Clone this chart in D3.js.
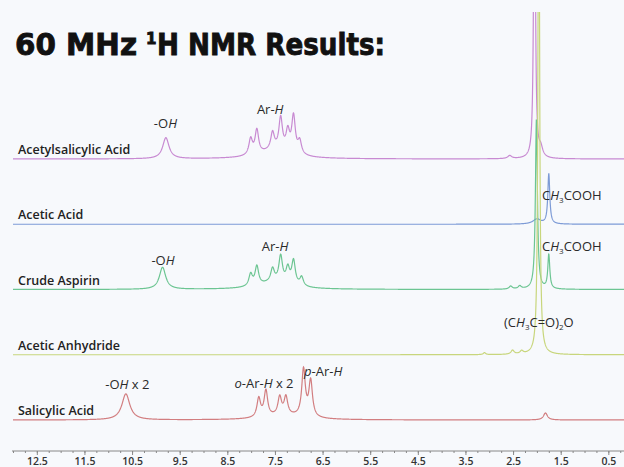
<!DOCTYPE html>
<html>

<head>
  <meta charset="utf-8">
  <title>60 MHz 1H NMR</title>
  <style>
    body { margin: 0; background: #f7f9fc; }
    svg { display: block; }
    .name { font-family: "Open Sans", sans-serif; font-weight: 600; font-size: 12.5px; fill: #222; }
    .peak { font-family: "Open Sans", sans-serif; font-size: 13px; fill: #2a2a2a; }
    .axis text { font-family: "Open Sans", sans-serif; font-weight: 600; font-size: 10.5px; fill: #333; }
    .title { font-family: "DejaVu Sans", sans-serif; font-weight: bold; fill: #111; stroke: #111; stroke-width: 0.9; }
  </style>
</head>

<body>
  <script src="https://d3js.org/d3.v7.min.js"></script>
  <script>
    // spectra, top to bottom
    var specNames = ["Acetylsalicylic Acid", "Acetic Acid", "Crude Aspirin", "Acetic Anhydride", "Salicylic Acid"];
    var specColors = ["#c88ad2", "#7d9bd6", "#6cc592", "#c8d67c", "#d27e80"];

    // peaks: [ppm, height, half width]
    var acetylsalicylicPeaks = [
      [9.79, 21, 0.08],
      [8.01, 16, 0.045], [7.88, 24, 0.045], [7.55, 17, 0.045], [7.38, 32, 0.045],
      [7.23, 20, 0.045], [7.11, 37, 0.045], [6.98, 13, 0.045], [7.5, 8, 0.4],
      [2.57, 3, 0.05], [2.05, 420, 0.018], [1.92, 9, 0.05]
    ];
    var aceticAcidPeaks = [
      [2.0, 5, 0.1], [1.75, 50, 0.025]
    ];
    var crudeAspirinPeaks = [
      [9.86, 22, 0.08],
      [8.01, 12, 0.045], [7.88, 19, 0.045], [7.55, 13, 0.045], [7.38, 26, 0.045],
      [7.23, 15, 0.045], [7.11, 24, 0.045], [6.94, 9, 0.045], [7.5, 7, 0.4],
      [2.55, 3, 0.04], [2.36, 3, 0.04], [2.01, 170, 0.025], [1.75, 34, 0.025]
    ];
    var aceticAnhydridePeaks = [
      [3.10, 2, 0.03], [2.51, 4, 0.04], [2.32, 3, 0.04], [1.96, 600, 0.018]
    ];
    var salicylicPeaks = [
      [10.63, 26, 0.1],
      [7.84, 19, 0.045], [7.69, 26, 0.045], [7.40, 18, 0.045], [7.27, 18, 0.045],
      [6.90, 47, 0.045], [6.75, 36, 0.045], [7.3, 4, 0.5],
      [1.82, 7, 0.05]
    ];
    var allPeaks = [acetylsalicylicPeaks, aceticAcidPeaks, crudeAspirinPeaks, aceticAnhydridePeaks, salicylicPeaks];

    var majorTicks = [12.5, 11.5, 10.5, 9.5, 8.5, 7.5, 6.5, 5.5, 4.5, 3.5, 2.5, 1.5, 0.5];
    var tickLabels = ["12.5", "11.5", "10.5", "9.5", "8.5", "7.5", "6.5", "5.5", "4.5", "3.5", "2.5", "1.5", "0.5"];

    var width = 624;
    var height = 467;

    var svg = d3.select("body").append("svg")
      .attr("width", width).attr("height", height);

    svg.append("rect").attr("width", width).attr("height", height).attr("fill", "#f7f9fc");

    var x = d3.scaleLinear().domain([13, 0.15]).range([13, 625]);
    var base = d3.scalePoint().domain(specNames).range([159, 420]);
    var amp = d3.scaleLinear().domain([0, 100]).range([0, 100]);

    svg.append("defs").append("clipPath").attr("id", "plot")
      .append("rect").attr("x", 0).attr("y", 12).attr("width", width).attr("height", height);

    // spectrum at one shift = sum of lorentzian lines
    function intensity(peaks, p) {
      var s = 0;
      peaks.forEach(function(pk) {
        var u = (p - pk[0]) / pk[2];
        s += pk[1] / (1 + u * u);
      });
      return s;
    }

    var grid = d3.range(13, 0.1, -0.004);
    var g = svg.append("g").attr("clip-path", "url(#plot)");

    specNames.forEach(function(name, i) {
      var pts = grid.map(function(p) { return [p, intensity(allPeaks[i], p)]; });
      var line = d3.line()
        .x(function(d) { return x(d[0]); })
        .y(function(d) { return base(name) - amp(d[1]); });
      g.append("path")
        .attr("d", line(pts))
        .attr("fill", "none")
        .attr("stroke", specColors[i])
        .attr("stroke-width", 1.2);
    });

    // spectrum names
    svg.selectAll(".name").data(specNames).enter().append("text")
      .attr("class", "name")
      .attr("x", 18)
      .attr("y", function(d) { return base(d) - 5; })
      .text(function(d) { return d; });

    // peak labels
    function label(px, py, anchor, parts) {
      var t = svg.append("text").attr("class", "peak")
        .attr("x", px).attr("y", py).attr("text-anchor", anchor);
      parts.forEach(function(p) {
        var s = t.append("tspan").text(p[0]);
        if (p[1] == "i") s.style("font-style", "italic");
        if (p[1] == "sub") s.attr("font-size", "8px").attr("dy", 3);
        if (p[1] == "up") s.attr("dy", -3);
      });
    }
    label(x(9.8), 128, "middle", [["-O"], ["H", "i"]]);
    label(x(7.6), 114, "middle", [["Ar-"], ["H", "i"]]);
    label(x(9.85), 265, "middle", [["-O"], ["H", "i"]]);
    label(x(7.5), 251, "middle", [["Ar-"], ["H", "i"]]);
    label(542, 200, "start", [["C"], ["H", "i"], ["3", "sub"], ["COOH", "up"]]);
    label(542, 251, "start", [["C"], ["H", "i"], ["3", "sub"], ["COOH", "up"]]);
    label(504, 327, "start", [["(C"], ["H", "i"], ["3", "sub"], ["C=O)", "up"], ["2", "sub"], ["O", "up"]]);
    label(x(10.6), 389, "middle", [["-O"], ["H", "i"], [" x 2"]]);
    label(x(7.73), 388, "middle", [["o", "i"], ["-Ar-"], ["H", "i"], [" x 2"]]);
    label(304, 376, "start", [["p", "i"], ["-Ar-"], ["H", "i"]]);

    // axis
    var minor = d3.range(13, 0, -0.25);
    svg.append("g").attr("class", "axis")
      .attr("transform", "translate(0,451)")
      .call(d3.axisBottom(x).tickValues(minor).tickSize(2).tickFormat(""))
      .call(function(a) { a.select(".domain").attr("stroke", "#888").attr("d", "M12,0H624"); })
      .call(function(a) { a.selectAll(".tick line").attr("stroke", "#888"); });
    svg.append("g").attr("class", "axis")
      .attr("transform", "translate(0,451)")
      .call(d3.axisBottom(x).tickValues(majorTicks).tickSize(4).tickPadding(3)
        .tickFormat(function(d, i) { return tickLabels[i]; }))
      .call(function(a) { a.select(".domain").remove(); })
      .call(function(a) { a.selectAll(".tick line").attr("stroke", "#888"); });

    // title, in three pieces so the superscript sits by itself
    svg.append("text").attr("class", "title")
      .attr("x", 15).attr("y", 55).attr("font-size", 30)
      .attr("textLength", 122).attr("lengthAdjust", "spacingAndGlyphs")
      .text("60 MHz");
    svg.append("text").attr("class", "title")
      .attr("x", 146).attr("y", 44).attr("font-size", 15)
      .text("1");
    svg.append("text").attr("class", "title")
      .attr("x", 157).attr("y", 55).attr("font-size", 30)
      .attr("textLength", 228).attr("lengthAdjust", "spacingAndGlyphs")
      .text("H NMR Results:");
  </script>
</body>

</html>
